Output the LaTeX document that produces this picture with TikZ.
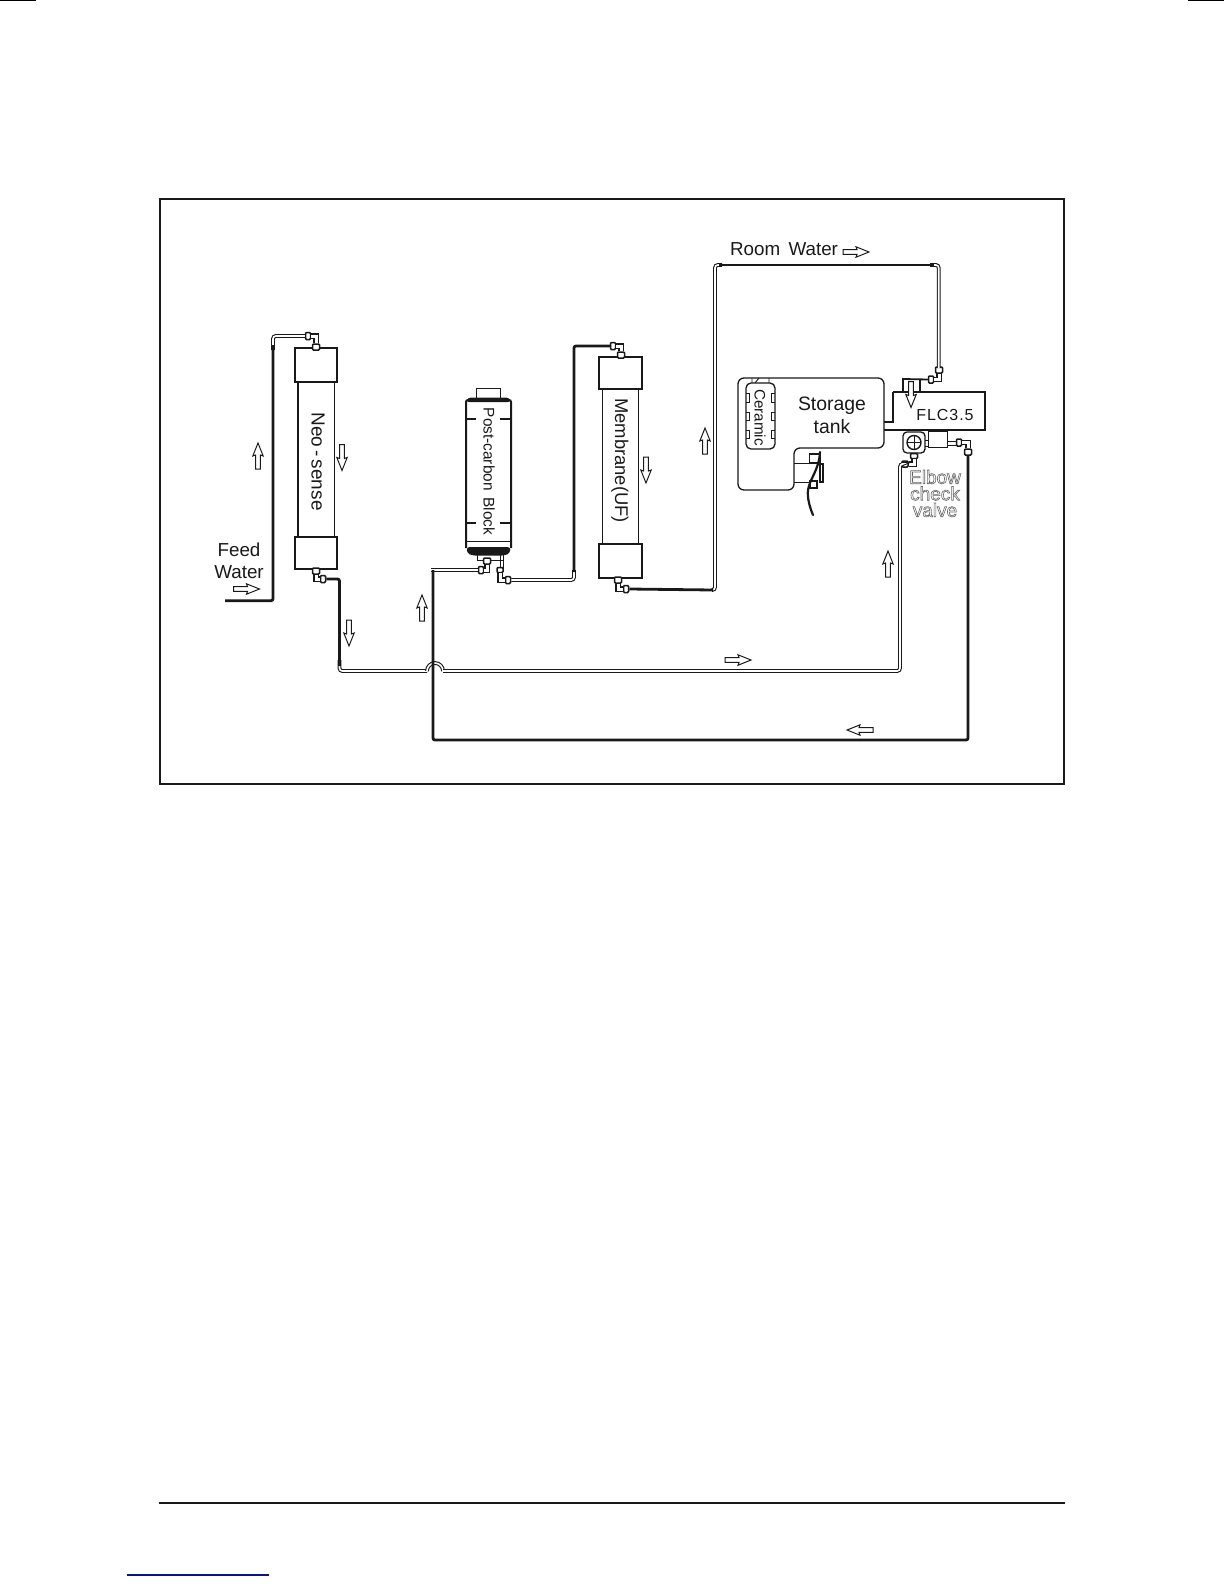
\documentclass[tikz,border=0pt]{standalone}
\usepackage{fontspec}
\setmainfont{Liberation Sans}
\definecolor{ink}{gray}{0.1}
\definecolor{linkblue}{RGB}{10,20,130}
\tikzset{
  frameline/.style={draw=ink,line width=1.1pt},
  solid part/.style={draw=ink,line width=.65pt,fill=white},
  thin part/.style={draw=ink,line width=.45pt},
  heavy part/.style={draw=ink,line width=1pt},
  pipethick/.style={draw=ink,line width=1.4pt,rounded corners=1pt},
  pipedouble/.style={draw=ink,line width=.55pt,double=white,double distance=.8pt,rounded corners=1.4pt},
  elbowtube/.style={draw=ink,line width=.7pt,double=white,double distance=1.5pt},
  fitting/.style={draw=ink,fill=white,line width=.75pt,rounded corners=.5pt,inner sep=0pt,minimum width=#1},
  fitting/.default=2.5pt,
  flow/.style={draw=ink,fill=white,line width=.5pt,line join=miter},
  lbl/.style={inner sep=0pt,text=ink,font=\fontsize{9}{10}\selectfont},
  rlbl/.style={lbl,rotate=-90},
}
\newcommand{\flowarrow}[3]{\draw[flow,shift={(#1,#2)},rotate=#3] (-13,-2.4) -- (1,-2.4) -- (0,-5.2) -- (13,0) -- (0,5.2) -- (1,2.4) -- (-13,2.4) -- cycle;}
\newcommand{\outlinetext}[1]{\special{pdf:code q 1 Tr 0.3 w 0.4 G}#1\special{pdf:code Q}}
\begin{document}
\begin{tikzpicture}[x=.5pt,y=-.5pt]
\useasboundingbox (0,0) rectangle (1224,1584);
% page marks
\draw[black,line width=.8pt] (0,.5) -- (36,.5);
\draw[black,line width=.8pt] (1188,.5) -- (1224,.5);
\draw[frameline] (160,199) rectangle (1064,784);
\draw[ink,line width=1.1pt] (159,1503) -- (1065,1503);
\draw[linkblue,line width=.6pt] (127,1575) -- (269,1575);

% Neo-sense filter
\draw[heavy part] (298,382) -- (298,537);
\draw[thin part] (334.5,382) -- (334.5,537);
\draw[heavy part] (295,348) rectangle (337,382);
\draw[heavy part] (295,537) rectangle (337,569);
\node[rlbl,font=\fontsize{9.5}{10}\selectfont] (neolabel) at (318,461.5) {Neo\,-\,sense};

% Post-carbon block
\draw[thin part] (476,398) -- (476,388) -- (500,388) -- (500,398);
\draw[heavy part,rounded corners=1pt] (466,548) -- (466,400) -- (511,400) -- (511,548);
\fill[ink,rounded corners=1.5pt] (466,402) -- (468,397.5) -- (509,397.5) -- (511,402) -- cycle;
\draw[ink,line width=1.3pt] (466,419) -- (476,419) (500,419) -- (511,419);
\draw[ink,line width=1.3pt] (466,523) -- (476,523) (500,523) -- (511,523);
\draw[thin part] (466,541) -- (511,541);
\fill[ink,rounded corners=1.5pt] (466.5,547) -- (510.5,547) -- (510,553) -- (505,555.5) -- (472,555.5) -- (467,553) -- cycle;
\draw[thin part] (477,555) -- (477,560) -- (503,560) -- (503,555);
\node[rlbl,font=\fontsize{7.7}{9}\selectfont] (postlabel) at (489,471.5) {Post-carbon\, Block};

% Membrane
\draw[thin part] (602,389) -- (602,544);
\draw[thin part] (638,389) -- (638,544);
\draw[solid part] (599,357) rectangle (642,389);
\draw[solid part] (599,544) rectangle (642,578);
\node[rlbl,font=\fontsize{9.2}{10}\selectfont] (memlabel) at (620,460.5) {Membrane(UF)};

% Storage tank
\draw[solid part,fill=none,rounded corners=3pt] (738,378) -- (884,378) -- (884,448) -- (794,448) -- (794,490) -- (738,490) -- cycle;
\draw[thin part] (752,378) -- (752,383) (769,378) -- (769,383) (759,378) -- (755,383);
\draw[solid part,rounded corners=2.5pt] (746,383) -- (775,383) -- (775,449) -- (746,449) -- cycle;
\foreach \ya/\yb in {393/402,412/420,430/438}{
  \draw[thin part] (746,\ya) -- (749,\ya) -- (749,\yb) -- (746,\yb);
  \draw[thin part] (775,\ya) -- (771.5,\ya) -- (771.5,\yb) -- (775,\yb);
}
\node[rlbl,font=\fontsize{7.6}{9}\selectfont] (ceramiclabel) at (760,417.5) {Ceramic};
\node[lbl,font=\fontsize{9.7}{11}\selectfont] (storagelabel) at (832,406) {Storage};
\node[lbl,font=\fontsize{9.7}{11}\selectfont] (tanklabel) at (832,427) {tank};

% Faucet detail on the tank
\draw[thin part] (794,463) -- (810,463) (794,482) -- (811,482);
\draw[solid part] (820,464) rectangle (823,482);
\draw[solid part,fill=none,line width=.7pt] (809.5,454) rectangle (820,463);
\draw[solid part,line width=.6pt] (810,481) rectangle (817,488);
\draw[ink,line width=1.1pt,line cap=round] (820,452) .. controls (819,470) and (810,478) .. (808,490) .. controls (807,498) and (810,508) .. (813,515);

% FLC unit
\draw[solid part,fill=none] (884,430) -- (985,430) -- (985,392) -- (893,392);
\draw[ink,line width=.9pt] (884,422) -- (893,422) -- (893,392);
\node[lbl,font=\fontsize{8}{10}\selectfont\addfontfeature{LetterSpace=6}] (flclabel) at (945,414.5) {FLC3.5};

% Elbow check valve body
\draw[solid part,rounded corners=2pt] (903,432) rectangle (925,453);
\draw[solid part,line width=.7pt] (914,442.5) circle[radius=7];
\draw[thin part] (907,442.5) -- (921,442.5) (914,435.5) -- (914,449.5);
\draw[thin part] (925,440) -- (928,440) (925,446) -- (928,446);
\draw[thin part] (928,431) rectangle (947,447);
\draw[thin part] (947,441) -- (957,441) (947,445) -- (957,445);
\node[lbl,font=\fontsize{9.5}{11}\selectfont] (elbowlabel) at (935,477) {\outlinetext{Elbow}};
\node[lbl,font=\fontsize{9.5}{11}\selectfont] (checklabel) at (935,493.5) {\outlinetext{check}};
\node[lbl,font=\fontsize{9.5}{11}\selectfont] (valvelabel) at (935,510) {\outlinetext{valve}};

% Fittings
\node[fitting,minimum height=3.5pt] (fa) at (308,336) {};
\node[fitting,minimum height=3pt,minimum width=3.5pt] (fb) at (316,347) {};
\node[fitting,minimum height=3pt,minimum width=3.5pt] (fc) at (316,571) {};
\node[fitting,minimum height=3.5pt] (fd) at (323,579) {};
\node[fitting,minimum height=3.5pt] (fe) at (481,570) {};
\node[fitting,minimum height=3pt,minimum width=3.5pt] (ff) at (487,561) {};
\node[fitting,minimum height=2.5pt,minimum width=3pt] (fg) at (500,570) {};
\node[fitting,minimum height=3.5pt] (fh) at (508,580) {};
\node[fitting,minimum height=3.5pt] (fi) at (613,346) {};
\node[fitting,minimum height=3pt,minimum width=3.5pt] (fj) at (621,355) {};
\node[fitting,minimum height=3pt,minimum width=3.5pt] (fk) at (618,580) {};
\node[fitting,minimum height=3.5pt] (fl) at (626,589) {};
\node[fitting,minimum height=3pt,minimum width=3.5pt] (fm) at (939,370) {};
\node[fitting,minimum height=3.5pt] (fn) at (931,379.5) {};
\node[fitting,minimum height=3pt,minimum width=3pt] (fo) at (905,464) {};
\node[fitting,minimum height=2.5pt,minimum width=3.5pt] (fp) at (914,456) {};
\node[fitting,minimum height=3.5pt] (fq) at (959,442.5) {};
\node[fitting,minimum height=3pt,minimum width=3.5pt] (fr) at (968,452) {};

% Elbows between paired fittings
\draw[elbowtube] (fa.east) -- (fb.north |- fa.east) -- (fb.north);
\draw[elbowtube] (fc.south) -- (fc.south |- fd.west) -- (fd.west);
\draw[elbowtube] (ff.south) -- (ff.south |- fe.east) -- (fe.east);
\draw[elbowtube] (fg.south) -- (fg.south |- fh.west) -- (fh.west);
\draw[elbowtube] (fi.east) -- (fj.north |- fi.east) -- (fj.north);
\draw[elbowtube] (fk.south) -- (fk.south |- fl.west) -- (fl.west);
\draw[elbowtube] (fm.south) -- (fm.south |- fn.east) -- (fn.east);
\draw[elbowtube] (fp.south) -- (fp.south |- fo.east) -- (fo.east);
\draw[elbowtube] (fq.east) -- (fr.north |- fq.east) -- (fr.north);
\draw[thin part] (500,555) -- (500,568) (503,555) -- (503,568);

% Pipes
\coordinate (feedin) at (225,600.7);
\coordinate (feedknee) at (273,345);
\draw[pipedouble] (273,350) -- (273,336) -- (fa.west);
\draw[pipethick] (feedin) -- (273,600.7) -- (feedknee);

\coordinate (hopleft) at (427,671);
\coordinate (hopright) at (443,671);
\draw[pipedouble] (339.5,660) -- (339.5,671) -- (hopleft);
\draw[pipethick] (fd.east) -- (339.5,579) -- (339.5,666);
\draw[pipedouble,rounded corners=0pt] (hopleft) arc[start angle=180,end angle=360,radius=8];
\draw[pipedouble] (hopright) -- (900,671) -- (900,464) -- (fo.west);

\coordinate (backtop) at (433,570);
\draw[pipedouble] (431,570) -- (fe.west);
\draw[pipethick] (fr.south) -- (968,740) -- (433,740) -- (backtop);

\draw[pipedouble] (fh.east) -- (574,580) -- (574,570);
\draw[pipethick] (574,572) -- (574,346) -- (fi.west);

\draw[pipedouble] (712,590) -- (715,590) -- (715,265) -- (722,265);
\draw[pipethick] (fl.east) -- (713,590);
\draw[pipedouble] (930,265) -- (938.7,265) -- (938.7,368);
\draw[pipethick] (719,265) -- (934,265);
\draw[ink,line width=.9pt] (fn.west) -- (903,379) -- (903,392);
\draw[ink,line width=.9pt] (920,380) -- (920,392);

% Flow arrows
\flowarrow{246.5}{589}{0}
\flowarrow{258}{456}{90}
\flowarrow{342}{457.5}{-90}
\flowarrow{349}{633}{-90}
\flowarrow{422}{608}{90}
\flowarrow{646}{470}{-90}
\flowarrow{705}{441}{90}
\flowarrow{856}{252}{0}
\flowarrow{911}{394.5}{-90}
\flowarrow{738}{660}{0}
\flowarrow{860}{730}{180}
\flowarrow{888}{564}{90}

% Outer labels
\node[lbl,font=\fontsize{9.4}{10}\selectfont] (roomlabel) at (784,249) {Room\, Water};
\node[lbl,font=\fontsize{9.4}{10}\selectfont] (feedlabel) at (239,550) {Feed};
\node[lbl,font=\fontsize{9.4}{10}\selectfont] (waterlabel) at (239,572) {Water};
\end{tikzpicture}
\end{document}
